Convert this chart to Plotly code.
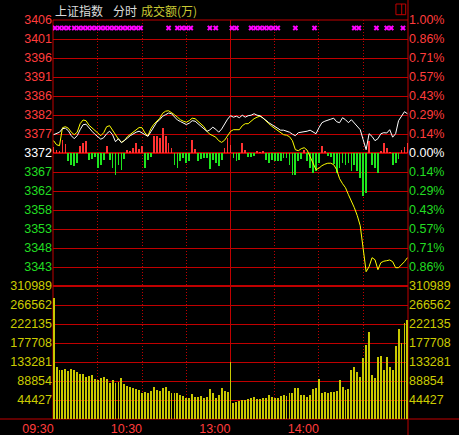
import plotly.graph_objects as go

# ---------------- data ----------------
PREV_CLOSE = 3372.0
TIME_LABELS = ["09:30", "", "10:30", "", "13:00", "", "14:00", "", ""]
PRICE_LABELS = ["3406", "3401", "3396", "3391", "3386", "3382", "3377", "3372",
                "3367", "3362", "3358", "3353", "3348", "3343"]
PCT_LABELS = ["1.00%", "0.86%", "0.71%", "0.57%", "0.43%", "0.29%", "0.14%", "0.00%",
              "0.14%", "0.29%", "0.43%", "0.57%", "0.71%", "0.86%"]
VOL_LABELS = ["44427", "88854", "133281", "177708", "222135", "266562", "310989"]
VOL_MAX = 310989

# index price, sampled every 2 minutes (09:30 .. 15:00)
index_price = [
    3376.64, 3377.02, 3377.27, 3378.16, 3378.29, 3377.65, 3376.39, 3375.63, 3376.39, 3377.91,
    3379.17, 3379.30, 3378.29, 3377.53, 3376.77, 3376.01, 3375.50, 3375.88, 3376.89, 3377.53,
    3376.64, 3374.86, 3375.63, 3374.61, 3375.12, 3375.75, 3376.39, 3376.89, 3377.27, 3377.53,
    3377.15, 3376.64, 3376.21, 3377.40, 3378.67, 3379.81, 3380.44, 3381.33, 3381.71, 3382.14,
    3381.96, 3381.08, 3380.37, 3379.99, 3379.63, 3379.22, 3379.55, 3380.19, 3380.06, 3379.43,
    3378.92, 3378.16, 3377.48, 3377.86, 3378.54, 3378.03, 3377.27, 3378.08, 3379.43, 3380.57,
    3381.46, 3381.08, 3381.33, 3380.95, 3381.58, 3381.08, 3381.46, 3381.58, 3381.96, 3381.58,
    3381.46, 3380.95, 3380.31, 3379.68, 3379.17, 3378.67, 3378.29, 3377.78, 3377.78, 3377.53,
    3377.27, 3376.77, 3376.39, 3377.15, 3377.22, 3377.27, 3377.53, 3377.78, 3377.40, 3376.89,
    3378.41, 3379.68, 3380.06, 3380.24, 3380.57, 3380.82, 3379.93, 3379.68, 3380.95, 3380.44,
    3379.68, 3380.44, 3379.68, 3378.92, 3377.91, 3375.37, 3372.84, 3376.89, 3376.21, 3375.12,
    3375.63, 3376.89, 3377.15, 3377.07, 3377.91, 3376.01, 3376.89, 3380.19, 3381.20, 3382.47,
    3381.96,
]

# un-weighted (average) index line, every 2 minutes
avg_price = [
    3375.12, 3374.10, 3373.85, 3378.41, 3378.67, 3378.29, 3377.27, 3376.64, 3377.27, 3379.43,
    3380.37, 3380.19, 3379.05, 3378.34, 3377.78, 3376.89, 3376.39, 3377.15, 3378.67, 3378.92,
    3377.78, 3376.64, 3375.50, 3374.74, 3375.12, 3376.13, 3376.77, 3377.27, 3377.83, 3378.46,
    3378.41, 3377.07, 3376.39, 3378.16, 3379.30, 3380.19, 3380.82, 3382.09, 3382.60, 3382.72,
    3382.29, 3381.71, 3381.08, 3380.44, 3380.06, 3379.81, 3380.19, 3380.82, 3380.70, 3380.06,
    3379.55, 3378.67, 3377.48, 3376.77, 3376.39, 3376.01, 3375.12, 3374.69, 3375.24, 3376.39,
    3377.48, 3377.91, 3377.91, 3377.91, 3378.92, 3379.43, 3379.43, 3380.06, 3380.70, 3381.08,
    3381.33, 3380.87, 3380.06, 3379.43, 3378.79, 3378.29, 3377.78, 3377.15, 3376.64, 3376.51,
    3376.13, 3375.12, 3372.84, 3372.58, 3373.09, 3373.34, 3372.71, 3371.06, 3369.29, 3367.77,
    3368.15, 3368.78, 3369.16, 3369.41, 3369.41, 3369.03, 3367.77, 3365.49, 3364.22, 3363.20,
    3361.43, 3359.91, 3358.13, 3356.11, 3353.57, 3347.74, 3341.91, 3343.18, 3345.46, 3344.95,
    3342.42, 3344.19, 3344.57, 3344.70, 3344.88, 3344.44, 3342.92, 3342.92, 3343.56, 3344.44,
    3345.46,
]

# buy / sell strength bars around the previous close (index points)
strength = [
    1.52, 0.76, 0.51, 3.30, 2.28, -2.03, -3.04, -3.30, -2.54, 1.77,
    2.54, 3.04, -1.77, -1.52, -1.01, -3.80, -3.04, -1.77, 1.77, -1.77,
    -3.80, -5.58, -3.04, -4.31, -1.52, 0.76, 0.51, 1.27, 2.54, 1.01,
    1.77, -3.80, -1.77, -1.01, 4.31, 4.31, 3.80, 6.34, 4.31, 2.54,
    1.27, -3.04, -3.80, -2.03, -1.27, -2.54, -2.03, 3.30, 1.01, -2.03,
    -1.52, -1.27, -1.27, -4.06, -1.77, -2.54, -3.30, -1.77, 1.27, 3.80,
    2.03, -1.27, -2.03, -1.77, 2.54, 0.76, -1.01, -1.01, -0.76, 0.51,
    0.25, 0.51, -1.77, -2.54, -1.77, -2.03, -2.03, -2.03, -1.27, -1.27,
    -3.04, -5.58, -5.58, -2.03, -1.52, 0.76, -2.03, -3.80, -5.07, -4.56,
    -2.54, 1.77, 0.51, -0.76, -1.01, -2.79, -5.07, -3.80, -2.54, -3.04,
    -2.54, -4.56, -3.04, -4.56, -6.34, -10.90, -10.14, 3.04, -3.04, -3.80,
    -5.07, 0.51, 2.54, 1.27, 0.25, -3.04, -2.54, -1.52, 0.76, 1.52,
    2.54,
]

# turnover (万), every 2 minutes
volume = [
    282200, 122300, 114600, 114600, 116200, 112900, 116200, 114600, 110600, 105200,
    104500, 98900, 100500, 102900, 92800, 91200, 95200, 98900, 92800, 84900,
    91200, 83500, 87200, 95200, 81800, 77200, 75500, 73200, 70800, 67800,
    61500, 63100, 60100, 66200, 74100, 67800, 66200, 71800, 74100, 66200,
    61500, 61500, 60100, 56100, 53800, 48400, 48400, 58500, 52100, 52100,
    53800, 48400, 50700, 69400, 61500, 48400, 56100, 71800, 66200, 63800,
    134000, 38100, 40500, 42100, 44400, 44400, 46100, 49800, 50700, 46100,
    46100, 48400, 49800, 56100, 50700, 48400, 48400, 53800, 56100, 53800,
    61500, 61500, 71800, 71800, 56100, 56100, 52100, 56100, 69400, 71800,
    92800, 60100, 63800, 61500, 63800, 63800, 66200, 91200, 75500, 67800,
    69400, 114600, 122300, 110600, 98900, 141900, 173000, 204100, 102200, 95200,
    145700, 147300, 114600, 144300, 120900, 114600, 170700, 209700, 177000, 223800,
    231500,
]

# minutes carrying a signal mark along the top
signal_minutes = [1, 4, 7, 10, 14, 17, 20, 23, 26, 29, 32, 35, 38, 41, 44, 47, 50, 53, 56, 59,
                  78, 84, 87, 90, 93, 106, 110, 121, 124, 134, 137, 140, 143, 146, 149, 152,
                  164, 177, 204, 207, 219, 226, 229, 237]

# ---------------- styling ----------------
RED_GRID = "#c00000"
RED_TXT = "#ff3c3c"
GREEN_TXT = "#22dd22"
YEL_TXT = "#cccc00"
FONT = "Liberation Sans, Arial, sans-serif"
FS = 12.5
CJK = "Noto Sans CJK SC"

minutes = [2 * i for i in range(len(index_price))]
bar_minutes = [2 * i for i in range(len(strength))]
vol_minutes = [2 * i for i in range(len(volume))]

ks = list(range(7, -7, -1))
price_ticks = [PREV_CLOSE * (1 + k / 700.0) for k in ks]


def tcol(k):
    return RED_TXT if k > 0 else ("#ffffff" if k == 0 else GREEN_TXT)


price_text = [f'<span style="color:{tcol(k)}">{t}</span>' for k, t in zip(ks, PRICE_LABELS)]
pct_text = [f'<span style="color:{tcol(k)}">{t}</span>' for k, t in zip(ks, PCT_LABELS)]
vol_ticks = [VOL_MAX * (i + 1) / 7.0 for i in range(7)]

fig = go.Figure()

fig.add_trace(go.Bar(
    x=bar_minutes, y=strength, base=PREV_CLOSE, width=1.2,
    marker=dict(color=["#ff3232" if v > 0 else "#1ee61e" for v in strength], line_width=0),
    xaxis="x", yaxis="y", showlegend=False, hoverinfo="skip"))

fig.add_trace(go.Scatter(
    x=minutes, y=avg_price, mode="lines", line=dict(color="#ffff00", width=1),
    xaxis="x", yaxis="y", showlegend=False))
fig.add_trace(go.Scatter(
    x=minutes, y=index_price, mode="lines", line=dict(color="#ffffff", width=1),
    xaxis="x", yaxis="y", showlegend=False))

fig.add_trace(go.Scatter(
    x=signal_minutes, y=[PREV_CLOSE * 1.0094] * len(signal_minutes), mode="markers",
    marker=dict(symbol="x", size=5, color="#ff00ff", line_width=0),
    xaxis="x", yaxis="y", showlegend=False))

fig.add_trace(go.Bar(
    x=vol_minutes, y=volume, width=1.3,
    marker=dict(color="#c8c800", line_width=0),
    xaxis="x", yaxis="y2", showlegend=False))

# invisible traces so the right-hand axes exist
fig.add_trace(go.Scatter(x=[0], y=[PREV_CLOSE], mode="markers", marker_opacity=0,
                         xaxis="x", yaxis="y3", showlegend=False, hoverinfo="skip"))
fig.add_trace(go.Scatter(x=[0], y=[0], mode="markers", marker_opacity=0,
                         xaxis="x", yaxis="y4", showlegend=False, hoverinfo="skip"))

prange = [PREV_CLOSE * 0.99, PREV_CLOSE * 1.01]
common_y = dict(showline=False, zeroline=False, ticks="", fixedrange=True, automargin=False)

fig.update_layout(
    width=459, height=435,
    margin=dict(l=53, r=51, t=20, b=16, autoexpand=False),
    paper_bgcolor="#000000", plot_bgcolor="#000000",
    bargap=0, barmode="overlay",
    xaxis=dict(domain=[0, 1], range=[-0.4, 240.4], anchor="y2", automargin=False,
               tickvals=list(range(0, 241, 30)), ticktext=TIME_LABELS,
               ticklabelposition="outside left", fixedrange=True,
               tickfont=dict(family=FONT, size=FS, color=RED_TXT),
               showgrid=True, gridcolor=RED_GRID, gridwidth=1, griddash="1px,2px",
               showline=False, zeroline=False, ticks=""),
    yaxis=dict(domain=[1 / 3, 1], range=prange, tickvals=price_ticks, ticktext=price_text,
               tickfont=dict(family=FONT, size=FS), showgrid=True, gridcolor=RED_GRID,
               gridwidth=1, anchor="x", **common_y),
    yaxis3=dict(domain=[1 / 3, 1], range=prange, tickvals=price_ticks, ticktext=pct_text,
                tickfont=dict(family=FONT, size=FS), overlaying="y", side="right",
                showgrid=False, anchor="x", **common_y),
    yaxis2=dict(domain=[0, 1 / 3], range=[0, VOL_MAX], tickvals=vol_ticks, ticktext=VOL_LABELS,
                tickfont=dict(family=FONT, size=FS, color=YEL_TXT), showgrid=True,
                gridcolor=RED_GRID, gridwidth=1, anchor="x", **common_y),
    yaxis4=dict(domain=[0, 1 / 3], range=[0, VOL_MAX], tickvals=vol_ticks, ticktext=VOL_LABELS,
                tickfont=dict(family=FONT, size=FS, color=YEL_TXT), overlaying="y2",
                side="right", showgrid=False, anchor="x", **common_y),
)

shapes = [
    # plot borders
    dict(type="line", xref="paper", yref="paper", x0=0, x1=0, y0=0, y1=1),
    dict(type="line", xref="paper", yref="paper", x0=1, x1=1, y0=-0.041, y1=1.051),
    dict(type="line", xref="paper", yref="paper", x0=-0.15, x1=1.15, y0=0, y1=0),
    dict(type="line", xref="paper", yref="paper", x0=0, x1=1, y0=1, y1=1),
    # lunch break line
    dict(type="line", xref="x", yref="paper", x0=120, x1=120, y0=0, y1=1),
    # panel divider and previous close
    dict(type="line", xref="paper", yref="paper", x0=0, x1=1, y0=1 / 3, y1=1 / 3, lw=2),
    dict(type="line", xref="paper", yref="y", x0=0, x1=1, y0=PREV_CLOSE, y1=PREV_CLOSE, lw=2),
]
for s in shapes:
    w = s.pop("lw", 1)
    s["line"] = dict(color=RED_GRID, width=w)
    s["layer"] = "below"
# small window icon at the top right
shapes.append(dict(type="rect", xref="paper", yref="paper", x0=0.966, x1=0.9935,
                   y0=1.0133, y1=1.0401, line=dict(color=RED_GRID, width=1)))
shapes.append(dict(type="line", xref="paper", yref="paper", x0=0.9823, x1=0.9823,
                   y0=1.0133, y1=1.0401, line=dict(color=RED_GRID, width=1)))
fig.update_layout(shapes=shapes)

hy = 1.0226
fig.update_layout(annotations=[
    dict(text="上证指数", x=0, y=hy, xref="paper", yref="paper", xanchor="left",
         yanchor="middle", showarrow=False, font=dict(family=CJK, size=12, color="#dcdcdc")),
    dict(text="分时", x=0.1634, y=hy, xref="paper", yref="paper", xanchor="left",
         yanchor="middle", showarrow=False, font=dict(family=CJK, size=12, color="#dcdcdc")),
    dict(text="成交额(万)", x=0.2423, y=hy, xref="paper", yref="paper", xanchor="left",
         yanchor="middle", showarrow=False, font=dict(family=CJK, size=12, color="#c8c832")),
])

fig.write_html(
    "out.html",
    config={"displayModeBar": False, "staticPlot": True},
    post_script="document.body.style.margin='0';document.body.style.padding='0';"
                "document.body.style.background='#000';",
)
